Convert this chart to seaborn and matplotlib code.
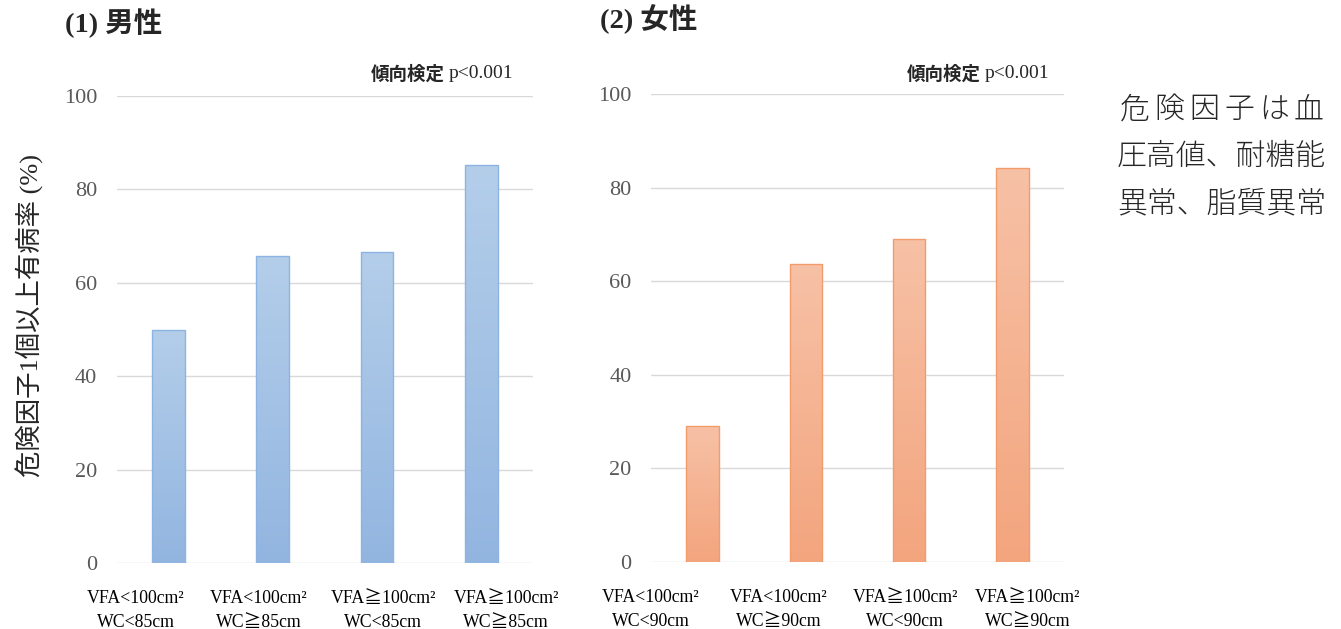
import numpy as np
import pandas as pd
import matplotlib
matplotlib.use("Agg")
import matplotlib.pyplot as plt
from matplotlib.colors import LinearSegmentedColormap
from matplotlib.transforms import ScaledTranslation
import seaborn as sns

# ---- data ----
male_categories = ["VFA<100cm²\nWC<85cm", "VFA<100cm²\nWC≧85cm",
                   "VFA≧100cm²\nWC<85cm", "VFA≧100cm²\nWC≧85cm"]
male_values = [50.0, 65.8, 66.7, 85.2]
female_categories = ["VFA<100cm²\nWC<90cm", "VFA<100cm²\nWC≧90cm",
                     "VFA≧100cm²\nWC<90cm", "VFA≧100cm²\nWC≧90cm"]
female_values = [29.1, 63.6, 69.1, 84.2]
y_ticks = [0, 20, 40, 60, 80, 100]
titles = ["(1) 男性", "(2) 女性"]
trend_label = "傾向検定"
trend_p = "p<0.001"
y_label = "危険因子1個以上有病率 (%)"
note_lines = ["危険因子は血", "圧高値、耐糖能", "異常、脂質異常"]

sns.set_theme(style="white")
MIX = ["Liberation Serif", "Noto Sans CJK JP", "DejaVu Sans"]
CJK = ["Noto Sans CJK JP", "DejaVu Sans"]
plt.rcParams["font.family"] = MIX

W, H = 1341, 629
fig = plt.figure(figsize=(W / 100, H / 100), dpi=100)

def fx(px):
    return px / W

def fy(py):
    return 1 - py / H

axL = fig.add_axes([fx(116.7), fy(563), fx(416.5), (563 - 96) / H])
axR = fig.add_axes([fx(651), fy(562), fx(413), (562 - 94) / H])

# horizontal shift (px) of the category labels relative to the bar centres
label_shift_L = [-33, -14, 6, 25]
label_shift_R = [-52, -27, -4, 15]

panels = [
    (axL, male_categories, male_values, ("#B4CEEA", "#92B5E0"), "#8DB3E2", label_shift_L),
    (axR, female_categories, female_values, ("#F7C1A6", "#F3A57E"), "#F39C6B", label_shift_R),
]

for ax, cats, vals, (ctop, cbot), edge, shifts in panels:
    df = pd.DataFrame({"cat": cats, "val": vals})
    sns.barplot(data=df, x="cat", y="val", ax=ax, width=0.315,
                color=ctop, edgecolor=edge, linewidth=1.0, saturation=1)
    ax.set_ylim(0, 100)
    ax.set_xlim(-0.5, len(cats) - 0.5)
    ax.set_yticks(y_ticks)
    ax.set_yticklabels([str(t) for t in y_ticks])
    ax.set_axisbelow(True)
    ax.yaxis.grid(True, color="#D9D9D9", linewidth=1.0)
    ax.xaxis.grid(False)
    for s in ax.spines.values():
        s.set_visible(False)
    ax.tick_params(axis="y", length=0, pad=14, labelsize=16, labelcolor="#595959")
    ax.tick_params(axis="x", length=0, pad=19.5, labelsize=12.8, labelcolor="#000000")
    for lbl, dx in zip(ax.get_xticklabels(), shifts):
        lbl.set_fontfamily(MIX)
        lbl.set_linespacing(1.5)
        lbl.set_transform(lbl.get_transform() + ScaledTranslation(dx / 100, 0, fig.dpi_scale_trans))
    for lbl in ax.get_yticklabels():
        lbl.set_fontfamily(["Liberation Serif"])
    ax.set_xlabel("")
    ax.set_ylabel("")
    # vertical gradient fill clipped to each bar
    cmap = LinearSegmentedColormap.from_list("g", [cbot, ctop])
    grad = np.linspace(0, 1, 256).reshape(-1, 1)
    for p in list(ax.patches):
        x0, y0 = p.get_x(), p.get_y()
        w, h = p.get_width(), p.get_height()
        im = ax.imshow(grad, extent=[x0, x0 + w, y0, y0 + h], origin="lower",
                       aspect="auto", cmap=cmap, zorder=p.get_zorder() - 0.01,
                       interpolation="bilinear")
        im.set_clip_path(p)
        p.set_facecolor("none")
    ax.set_ylim(0, 100)
    ax.set_xlim(-0.5, len(cats) - 0.5)
    ax.set_aspect("auto")

# titles
fig.text(fx(65), fy(23), titles[0], fontsize=20.5, fontweight="bold",
         family=MIX, va="center", ha="left")
fig.text(fx(600), fy(19), titles[1], fontsize=20.5, fontweight="bold",
         family=MIX, va="center", ha="left")

# trend test annotations
fig.canvas.draw()
renderer = fig.canvas.get_renderer()
for right_px, ypx in [(513, 74), (1049, 74)]:
    t = fig.text(fx(right_px), fy(ypx), trend_p, fontsize=14, family=["Liberation Serif"],
                 ha="right", va="center")
    bb = t.get_window_extent(renderer)
    fig.text(bb.x0 / W - 4 / W, fy(ypx), trend_label, fontsize=13.3, fontweight="bold",
             family=CJK, ha="right", va="center")

# y label
fig.text(fx(30), fy(316), y_label, rotation=90, fontsize=19, family=MIX,
         ha="center", va="center")

# note on the right
x_left, x_right = 1117, 1326
line1 = note_lines[0]
n1 = len(line1)
step = (x_right - x_left) / n1
for i, ch in enumerate(line1):
    fig.text(fx(x_left + step * (i + 0.5)), fy(110), ch, fontsize=21.5,
             family=CJK, fontweight="light", ha="center", va="center")
for k, line in enumerate(note_lines[1:]):
    fig.text(fx(x_left), fy(157 + 47 * k), line, fontsize=21.5,
             family=CJK, fontweight="light", ha="left", va="center")

fig.savefig("out.png", dpi=100)
